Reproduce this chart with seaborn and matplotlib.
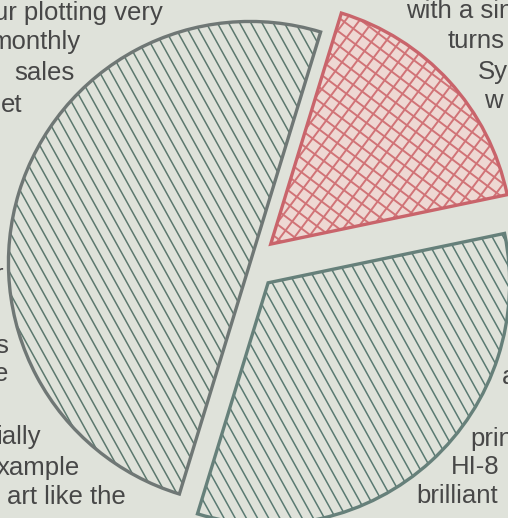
import numpy as np
import matplotlib
matplotlib.use("Agg")
import matplotlib.pyplot as plt
import matplotlib.patches as mpatches
from matplotlib.collections import LineCollection
import seaborn as sns

# Pie shares, in drawing order (counter-clockwise from the start angle)
segments = ["Left", "Lower right", "Upper right"]
shares = [50, 33, 17]

# Column text that wraps around the chart
left_lines = ["ur plotting very", "monthly", "sales", "et", "r", "s", "e",
              "ially", "xample", "art like the"]
right_lines = ["with a sin", "turns", "Sy", "w", "a", "prin", "HI-8", "brilliant"]

# Layout of the column text in pixels: (anchor x, baseline y)
left_pos = [(163, 20), (80, 49), (75, 80), (22, 112), (3, 282), (8, 353),
            (8, 381), (41, 444), (80, 475), (126, 504)]
right_pos = [(406, 18), (448, 48), (478, 79), (484, 108), (502, 384),
             (470, 446), (451, 474), (416, 503)]

sns.set_theme(style="white")
plt.rcParams["font.family"] = ["Liberation Sans", "DejaVu Sans"]

BG = "#dfe2da"
W, H = 508, 518
fig = plt.figure(figsize=(W / 100, H / 100), dpi=100, facecolor=BG)
ax = fig.add_axes([0, 0, 1, 1], facecolor=BG)

wedges, _ = ax.pie(shares, startangle=73, counterclock=True,
                   explode=[0.0, 0.11, 0.115], radius=0.99,
                   wedgeprops=dict(linewidth=0))

styles = [
    dict(face=BG, edge="#6f7775", hatch="#5c786e", angles=[-61], sp=0.040, lw=1.1),
    dict(face=BG, edge="#66807a", hatch="#5a7a72", angles=[-61], sp=0.040, lw=1.1),
    dict(face="#eed8d3", edge="#c9646b", hatch="#d17377", angles=[-37, 53], sp=0.046, lw=1.4),
]


def hatch_lines(wedge, angle_deg, spacing, color, lw):
    d = np.array([np.cos(np.radians(angle_deg)), np.sin(np.radians(angle_deg))])
    n = np.array([-d[1], d[0]])
    offs = np.arange(-1.6, 1.6 + 1e-9, spacing)
    segs = [[o * n - 1.6 * d, o * n + 1.6 * d] for o in offs]
    lc = LineCollection(segs, colors=color, linewidths=lw, zorder=3)
    ax.add_collection(lc)
    lc.set_clip_path(wedge)


for w, st in zip(wedges, styles):
    w.set_facecolor(st["face"])
    w.set_zorder(2)
    for a in st["angles"]:
        hatch_lines(w, a, st["sp"], st["hatch"], st["lw"])
    outline = mpatches.Wedge(w.center, w.r, w.theta1, w.theta2, fill=False,
                             edgecolor=st["edge"], linewidth=2.4, zorder=4,
                             joinstyle="miter")
    ax.add_patch(outline)

R = 244.0
cx, cy = 250.0, 263.0
ax.set_xlim(-cx / R, (W - cx) / R)
ax.set_ylim(-(H - cy) / R, cy / R)
ax.set_aspect("auto")
ax.axis("off")

txt = dict(fontsize=18.5, color="#474747")
for s, (x, y) in zip(left_lines, left_pos):
    fig.text(x / W, 1 - y / H, s, ha="right", va="baseline", **txt)
for s, (x, y) in zip(right_lines, right_pos):
    fig.text(x / W, 1 - y / H, s, ha="left", va="baseline", **txt)

fig.savefig("out.png", dpi=100, facecolor=BG)
